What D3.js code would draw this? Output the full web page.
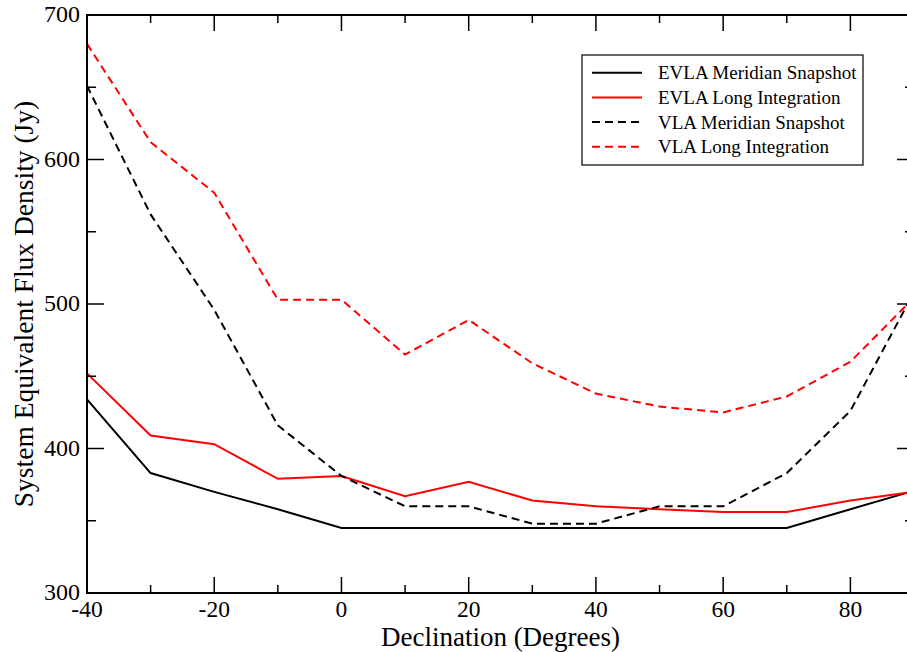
<!DOCTYPE html>
<html>
<head>
<meta charset="utf-8">
<script src="https://cdn.jsdelivr.net/npm/d3@7"></script>
<style>
  body { margin: 0; background: #fff; }
</style>
</head>
<body>
<svg id="chart" width="907" height="652"></svg>
<script>
// declinations
const decl = [-40, -30, -20, -10, 0, 10, 20, 30, 40, 50, 60, 70, 80, 89];

const evlaSnapshot = [434, 383, 370, 358, 345, 345, 345, 345, 345, 345, 345, 345, 358, 369.5];
const evlaLong     = [452, 409, 403, 379, 381, 367, 377, 364, 360, 358, 356, 356, 364, 369.5];
const vlaSnapshot  = [651, 562, 496, 416, 381, 360, 360, 348, 348, 360, 360, 383, 426, 500];
const vlaLong      = [680, 612, 577, 503, 503, 465, 489, 459, 438, 429, 425, 436, 460, 500];

const seriesNames = ['EVLA Meridian Snapshot', 'EVLA Long Integration', 'VLA Meridian Snapshot', 'VLA Long Integration'];
const seriesColors = ['#000000', '#ff0000', '#000000', '#ff0000'];
const seriesDashed = [false, false, true, true];
const seriesValues = [evlaSnapshot, evlaLong, vlaSnapshot, vlaLong];

const xTicks = [-40, -20, 0, 20, 40, 60, 80];
const yTicks = [300, 400, 500, 600, 700];

const FONT = "'Times New Roman', 'Liberation Serif', 'DejaVu Serif', serif";

const svg = d3.select('#chart').attr('font-family', FONT);
const margin = { top: 15, right: -7, bottom: 59, left: 87 };
const width = 907, height = 652;
const plotW = width - margin.left - margin.right;
const plotH = height - margin.top - margin.bottom;

const x = d3.scaleLinear().domain([-40, 90]).range([0, plotW]);
const y = d3.scaleLinear().domain([300, 700]).range([plotH, 0]);

const g = svg.append('g').attr('transform', `translate(${margin.left},${margin.top})`);

// 数据线
const line = d3.line().x(d => x(d[0])).y(d => y(d[1]));
seriesValues.forEach((vals, i) => {
    g.append('path')
        .datum(decl.map((d, j) => [d, vals[j]]))
        .attr('d', line)
        .attr('fill', 'none')
        .attr('stroke', seriesColors[i])
        .attr('stroke-width', 2)
        .attr('stroke-dasharray', seriesDashed[i] ? '8,5' : null);
});

// frame
g.append('rect')
    .attr('x', 0).attr('y', 0)
    .attr('width', plotW).attr('height', plotH)
    .attr('fill', 'none').attr('stroke', '#000').attr('stroke-width', 2);

// ticks, inside on all four sides
const xMinor = d3.range(-30, 90, 20);
const yMinor = d3.range(350, 700, 100);
const tick = (x1, y1, x2, y2) => g.append('line')
    .attr('x1', x1).attr('y1', y1).attr('x2', x2).attr('y2', y2)
    .attr('stroke', '#000').attr('stroke-width', 1.5);

xTicks.forEach(t => { tick(x(t), plotH, x(t), plotH - 16); tick(x(t), 0, x(t), 16); });
xMinor.forEach(t => { tick(x(t), plotH, x(t), plotH - 8); tick(x(t), 0, x(t), 8); });
yTicks.forEach(t => { tick(0, y(t), 17, y(t)); tick(plotW, y(t), plotW - 17, y(t)); });
yMinor.forEach(t => { tick(0, y(t), 9, y(t)); tick(plotW, y(t), plotW - 9, y(t)); });

// tick labels
g.selectAll('.xl').data(xTicks).enter().append('text')
    .attr('x', d => x(d)).attr('y', plotH + 24)
    .attr('text-anchor', 'middle')
    .attr('font-size', 23.5)
    .text(d => d);

g.selectAll('.yl').data(yTicks).enter().append('text')
    .attr('x', -7).attr('y', d => y(d) + 7)
    .attr('text-anchor', 'end')
    .attr('font-size', 24)
    .text(d => d);

// axis titles
svg.append('text')
    .attr('x', margin.left + plotW / 2).attr('y', 646)
    .attr('text-anchor', 'middle')
    .attr('font-size', 27)
    .text('Declination (Degrees)');

svg.append('text')
    .attr('transform', `translate(33,${margin.top + plotH / 2}) rotate(-90)`)
    .attr('text-anchor', 'middle')
    .attr('font-size', 27.5)
    .text('System Equivalent Flux Density (Jy)');

// legend
const legend = svg.append('g');
legend.append('rect')
    .attr('x', 582).attr('y', 55).attr('width', 281).attr('height', 110)
    .attr('fill', '#fff').attr('stroke', '#000').attr('stroke-width', 1.2);

seriesNames.forEach((name, i) => {
    const ly = 72.7 + i * 24.7;
    legend.append('line')
        .attr('x1', 592).attr('x2', 642).attr('y1', ly).attr('y2', ly)
        .attr('stroke', seriesColors[i]).attr('stroke-width', 2)
        .attr('stroke-dasharray', seriesDashed[i] ? '8,5' : null);
    legend.append('text')
        .attr('x', 658).attr('y', ly + 6.5)
        .attr('font-size', 19)
        .text(name);
});
</script>
</body>
</html>
